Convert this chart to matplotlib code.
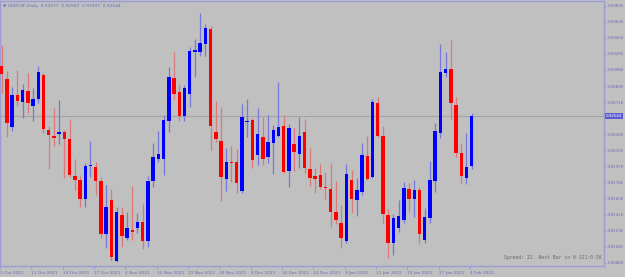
#!/usr/bin/env python3
"""
plot.py - USDCHF Daily candlestick chart (MT4 style), Oct 2021 - Feb 2022.
"""
import numpy as np
import matplotlib
matplotlib.use("Agg")
import matplotlib.pyplot as plt

# --- data ---
opens = [0.93129, 0.92976, 0.92426, 0.92786, 0.92714, 0.92838, 0.92665, 0.92742, 0.93022, 0.92388,
         0.92319, 0.92342, 0.92362, 0.92281, 0.91859, 0.91809, 0.91594, 0.91977, 0.91959, 0.91801,
         0.91187, 0.91579, 0.90883, 0.91409, 0.91148, 0.91237, 0.91260, 0.91325, 0.91113, 0.91804,
         0.92051, 0.92051, 0.92495, 0.92987, 0.92823, 0.92553, 0.92803, 0.93287, 0.93287, 0.93382,
         0.93548, 0.92365, 0.92258, 0.91824, 0.92020, 0.92016, 0.91689, 0.92484, 0.92504, 0.92100,
         0.92308, 0.92081, 0.92235, 0.92323, 0.92438, 0.91916, 0.92227, 0.92112, 0.92362, 0.91936,
         0.91859, 0.91870, 0.91732, 0.91709, 0.91447, 0.91321, 0.91106, 0.91812, 0.91579, 0.91678,
         0.92092, 0.91850, 0.92699, 0.92319, 0.91409, 0.91090, 0.91263, 0.91352, 0.91709, 0.91590,
         0.91697, 0.91121, 0.91378, 0.91801, 0.92357, 0.93041, 0.93091, 0.92676, 0.92120, 0.91832,
         0.91977]
highs = [0.93367, 0.93071, 0.92880, 0.93074, 0.92918, 0.93048, 0.92869, 0.93126, 0.93048, 0.92434,
         0.92638, 0.92734, 0.92388, 0.92515, 0.92051, 0.91870, 0.92005, 0.92258, 0.92023, 0.91847,
         0.91755, 0.91705, 0.91498, 0.91505, 0.91444, 0.91743, 0.91429, 0.91533, 0.91859, 0.92235,
         0.92377, 0.92561, 0.93111, 0.93290, 0.92918, 0.92907, 0.93348, 0.93433, 0.93733, 0.93609,
         0.93586, 0.92722, 0.92657, 0.92178, 0.92208, 0.92170, 0.92684, 0.92745, 0.92530, 0.92645,
         0.92535, 0.92561, 0.92446, 0.92938, 0.92561, 0.92457, 0.92408, 0.92535, 0.92515, 0.92185,
         0.91954, 0.91997, 0.91901, 0.92005, 0.91804, 0.91525, 0.91997, 0.91928, 0.91832, 0.92235,
         0.92319, 0.92745, 0.92772, 0.92438, 0.91475, 0.91417, 0.91582, 0.91786, 0.91774, 0.91812,
         0.91728, 0.91486, 0.92031, 0.92466, 0.93375, 0.93290, 0.93425, 0.92765, 0.92235, 0.92357,
         0.92587]
lows = [0.92815, 0.92302, 0.92377, 0.92659, 0.92523, 0.92588, 0.92495, 0.92696, 0.92350, 0.91936,
        0.92208, 0.92227, 0.91839, 0.91850, 0.91697, 0.91505, 0.91498, 0.91850, 0.91640, 0.91148,
        0.91026, 0.90880, 0.90871, 0.91041, 0.91121, 0.91121, 0.91205, 0.91014, 0.91044, 0.91735,
        0.92023, 0.91870, 0.92369, 0.92742, 0.92495, 0.92495, 0.92657, 0.93002, 0.93241, 0.93241,
        0.92158, 0.92254, 0.91571, 0.91686, 0.91786, 0.91666, 0.91666, 0.92304, 0.91947, 0.91985,
        0.91985, 0.92012, 0.91878, 0.92304, 0.91890, 0.91735, 0.91920, 0.91947, 0.91897, 0.91747,
        0.91659, 0.91712, 0.91590, 0.91268, 0.91306, 0.91026, 0.91090, 0.91429, 0.91401, 0.91640,
        0.91812, 0.91832, 0.92311, 0.91314, 0.90911, 0.90949, 0.91210, 0.91314, 0.91440, 0.91390,
        0.91072, 0.91083, 0.91321, 0.91678, 0.92293, 0.92995, 0.92512, 0.92081, 0.91774, 0.91766,
        0.91937]
closes = [0.93033, 0.92466, 0.92786, 0.92717, 0.92849, 0.92703, 0.92745, 0.93056, 0.92396, 0.92334,
          0.92296, 0.92369, 0.92288, 0.91874, 0.91812, 0.91594, 0.91977, 0.91989, 0.91801, 0.91187,
          0.91501, 0.90922, 0.91440, 0.91171, 0.91263, 0.91210, 0.91332, 0.91110, 0.91801, 0.92074,
          0.92108, 0.92504, 0.93002, 0.92803, 0.92553, 0.92876, 0.93298, 0.93310, 0.93394, 0.93567,
          0.92434, 0.92281, 0.91844, 0.92016, 0.92008, 0.91781, 0.92535, 0.92492, 0.92043, 0.92342,
          0.92054, 0.92247, 0.92388, 0.92426, 0.91908, 0.92408, 0.92132, 0.92319, 0.91947, 0.91839,
          0.91824, 0.91735, 0.91720, 0.91444, 0.91348, 0.91141, 0.91878, 0.91590, 0.91694, 0.92100,
          0.91824, 0.92707, 0.92319, 0.91417, 0.91090, 0.91371, 0.91398, 0.91724, 0.91590, 0.91697,
          0.91187, 0.91383, 0.91812, 0.92377, 0.93056, 0.93091, 0.92703, 0.92120, 0.91862, 0.91966,
          0.92544]

date_labels = ["1 Oct 2021", "11 Oct 2021", "19 Oct 2021", "27 Oct 2021", "4 Nov 2021",
               "12 Nov 2021", "22 Nov 2021", "30 Nov 2021", "8 Dec 2021", "16 Dec 2021",
               "24 Dec 2021", "3 Jan 2022", "11 Jan 2022", "19 Jan 2022", "27 Jan 2022",
               "4 Feb 2022"]
bars_per_label = 6

price_ticks = [0.93820, 0.93635, 0.93450, 0.93265, 0.93080, 0.92895, 0.92710,
               0.92340, 0.92155, 0.91970, 0.91785, 0.91600, 0.91415, 0.91230,
               0.91045, 0.90860]

header = "\u25bc USDCHF,Daily  0.91977  0.92587  0.91937  0.92544"
spread_text = "Spread: 22. Next Bar in 0-321:0-58"

# --- style ---
BG = "#c0c0c0"
FRAME = "#9c9cd6"
TXT = "#6a6ab8"
UP, DOWN = "#0000ff", "#ff0000"
UP_WICK, DOWN_WICK = "#7878dc", "#dc7878"

W, H = 625, 277
fig = plt.figure(figsize=(W / 100, H / 100), dpi=100, facecolor=BG)
# plot area: x 0..604 px, y 1..266 px (from top)
ax = fig.add_axes([0, 11 / H, 604 / W, 265 / H], facecolor=BG)

x = np.arange(len(opens))
o = np.array(opens)
c = np.array(closes)
hi = np.array(highs)
lo = np.array(lows)
up = c >= o

ax.vlines(x, lo, hi, colors=np.where(up, UP_WICK, DOWN_WICK), linewidth=0.9, zorder=2)
body_h = np.maximum(np.abs(c - o), 0.00008)
ax.bar(x, body_h, bottom=np.minimum(o, c), width=0.66,
       color=np.where(up, UP, DOWN), linewidth=0, zorder=3)

# current price line
ax.axhline(closes[-1], color="#a4a4a4", linewidth=0.8, zorder=1)

ax.set_xlim(-0.33, 115.34)
ax.set_ylim(0.90822, 0.93874)

for s in ax.spines.values():
    s.set_color(FRAME)
    s.set_linewidth(1.0)

ax.set_xticks(np.arange(len(date_labels)) * bars_per_label - 0.3)
ax.set_xticklabels(date_labels, ha="left")
ax.yaxis.tick_right()
ax.set_yticks(price_ticks)
ax.set_yticklabels([f"{p:.5f}" for p in price_ticks])
ax.tick_params(axis="x", colors=FRAME, labelcolor=TXT, labelsize=3.1, length=2.5, pad=1.2, width=0.8)
ax.tick_params(axis="y", colors=FRAME, labelcolor=TXT, labelsize=2.9, length=1.5, pad=1.0, width=0.8)
ax.grid(False)

# highlighted current price label
ax.annotate(f"{closes[-1]:.5f}", xy=(1, closes[-1]), xycoords=("axes fraction", "data"),
            xytext=(1.5, 0), textcoords="offset points", va="center", ha="left",
            fontsize=2.9, color="white",
            bbox=dict(boxstyle="square,pad=0.25", fc="#5c5cd0", ec="none"),
            annotation_clip=False)

fig.text(3 / W, 1 - 6 / H, header, fontsize=3.2, color=TXT, va="center", ha="left")
fig.text(602 / W, 1 - 258 / H, spread_text, fontsize=3.4, color="#686868",
         family="DejaVu Sans Mono", va="center", ha="right")

fig.savefig("out.png", dpi=100, facecolor=BG)
